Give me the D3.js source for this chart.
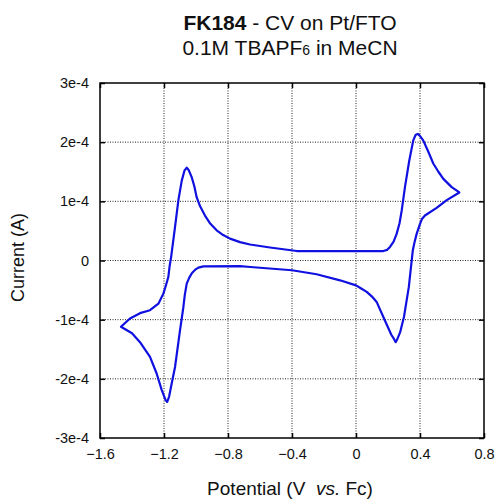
<!DOCTYPE html>
<html>
<head>
<meta charset="utf-8">
<script src="https://cdn.jsdelivr.net/npm/d3@7"></script>
<style>
  body { margin: 0; background: #fff; }
  text { font-family: "Liberation Sans", Arial, sans-serif; fill: #111; }
</style>
</head>
<body>
<div id="chart"></div>
<script>
// scan data, in order along the sweep (V vs Fc, current in units of 1e-4 A)
const potential = [0.0, 0.171, 0.195, 0.2125, 0.235, 0.254, 0.272, 0.286, 0.306, 0.333, 0.358, 0.372, 0.386, 0.398, 0.42, 0.45, 0.483, 0.515, 0.546, 0.598, 0.646,
  0.567, 0.504, 0.431, 0.412, 0.40, 0.379, 0.365, 0.355, 0.33, 0.30, 0.275, 0.258, 0.248, 0.238, 0.22, 0.18, 0.129, 0.10, 0.067, 0.03, 0.0, -0.1, -0.246, -0.40, -0.66, -0.725, -0.954, -0.985, -1.005, -1.025, -1.042, -1.058, -1.07, -1.079, -1.1, -1.131, -1.152, -1.168, -1.18, -1.19, -1.214, -1.246, -1.2875, -1.35, -1.40, -1.469,
  -1.4125, -1.35, -1.2875, -1.235, -1.204, -1.19, -1.173, -1.165, -1.156, -1.131, -1.11, -1.089, -1.072, -1.058, -1.046, -1.027, -1.01, -0.996, -0.975, -0.944, -0.91, -0.871, -0.83, -0.7875, -0.725, -0.6625, -0.5375, -0.37, 0.0]
const current = [0.16, 0.16, 0.18, 0.23, 0.32, 0.45, 0.63, 0.85, 1.24, 1.69, 2.03, 2.12, 2.14, 2.11, 2.03, 1.85, 1.64, 1.50, 1.38, 1.24, 1.15,
  1.02, 0.89, 0.76, 0.70, 0.62, 0.45, 0.30, 0.17, -0.45, -0.95, -1.22, -1.33, -1.38, -1.33, -1.25, -1.01, -0.70, -0.61, -0.53, -0.47, -0.42, -0.335, -0.233, -0.165, -0.11, -0.095, -0.10, -0.12, -0.155, -0.21, -0.29, -0.39, -0.58, -0.79, -1.18, -1.80, -2.08, -2.30, -2.39, -2.36, -2.19, -1.91, -1.63, -1.38, -1.23, -1.12,
  -0.98, -0.89, -0.84, -0.73, -0.56, -0.44, -0.28, -0.1, 0.05, 0.57, 1.02, 1.35, 1.52, 1.57, 1.53, 1.41, 1.25, 1.07, 0.92, 0.76, 0.62, 0.51, 0.43, 0.37, 0.31, 0.27, 0.22, 0.16, 0.16]

const xTicks = [-1.6, -1.2, -0.8, -0.4, 0, 0.4, 0.8]
const yTicks = [-3, -2, -1, 0, 1, 2, 3]
const yLabels = ["-3e-4", "-2e-4", "-1e-4", "0", "1e-4", "2e-4", "3e-4"]

const data = potential.map((v, i) => ({v: v, i: current[i]}))

const margin = ({top: 83, right: 11, bottom: 61, left: 100})
const width = 495 - margin.left - margin.right,
  height = 499 - margin.top - margin.bottom;

const svg = d3.select("#chart").append("svg")
    .attr("width", 495)
    .attr("height", 499)

const g = svg.append("g")
    .attr("transform", "translate(" + margin.left + "," + margin.top + ")");

const x = d3.scaleLinear().domain([-1.6, 0.8]).range([0, width])
const y = d3.scaleLinear().domain([-3, 3]).range([height, 0])

// dotted grid
g.append("g").selectAll("line.gx")
  .data(xTicks.slice(1, -1))
  .join("line")
    .attr("x1", d => x(d)).attr("x2", d => x(d))
    .attr("y1", 0).attr("y2", height)
    .attr("stroke", "#222").attr("stroke-width", 1)
    .attr("stroke-dasharray", "1,1.5")
g.append("g").selectAll("line.gy")
  .data(yTicks.slice(1, -1))
  .join("line")
    .attr("y1", d => y(d)).attr("y2", d => y(d))
    .attr("x1", 0).attr("x2", width)
    .attr("stroke", "#222").attr("stroke-width", 1)
    .attr("stroke-dasharray", "1,1.5")

// axes, ticks pointing inwards
const xAxis = d3.axisBottom(x).tickValues(xTicks).tickSize(-5).tickPadding(11).tickFormat(d => d === 0 ? "0" : d3.format(".1f")(d))
const yAxis = d3.axisLeft(y).tickValues(yTicks).tickSize(-5).tickPadding(11).tickFormat((d, k) => yLabels[k])

g.append("g").attr("class", "axis")
  .attr("transform", `translate(0, ${height})`)
  .call(xAxis)
g.append("g").attr("class", "axis").call(yAxis)
g.append("g").attr("class", "axis")
  .call(d3.axisTop(x).tickValues(xTicks).tickSize(-5).tickFormat(""))
g.append("g").attr("class", "axis")
  .attr("transform", `translate(${width}, 0)`)
  .call(d3.axisRight(y).tickValues(yTicks).tickSize(-5).tickFormat(""))

g.selectAll(".axis .domain").remove()
g.selectAll(".axis line").attr("stroke", "#000").attr("stroke-width", 1.5)
g.selectAll(".axis text").attr("font-size", 14.5).attr("fill", "#111")
  .style("font-family", "'Liberation Sans', Arial, sans-serif")

g.append("rect")
  .attr("width", width).attr("height", height)
  .attr("fill", "none").attr("stroke", "#000").attr("stroke-width", 1.5)

// the CV trace
const line = d3.line()
  .x(d => x(d.v))
  .y(d => y(d.i))

g.append("path")
  .datum(data)
  .attr("fill", "none")
  .attr("stroke", "#1010e0")
  .attr("stroke-width", 2.2)
  .attr("stroke-linejoin", "round")
  .attr("d", line)

// titles
const cx = margin.left + width / 2 - 2
const t1 = svg.append("text").attr("x", cx).attr("y", 30).attr("text-anchor", "middle").attr("font-size", 21)
t1.append("tspan").attr("font-weight", "bold").text("FK184")
t1.append("tspan").text(" - CV on Pt/FTO")

const t2 = svg.append("text").attr("x", cx).attr("y", 55).attr("text-anchor", "middle").attr("font-size", 21)
t2.append("tspan").text("0.1M TBAPF")
t2.append("tspan").attr("font-size", 14).text("6")
t2.append("tspan").text(" in MeCN")

const xl = svg.append("text").attr("x", cx).attr("y", 495).attr("text-anchor", "middle").attr("font-size", 19)
xl.append("tspan").text("Potential (V\u00a0\u00a0")
xl.append("tspan").attr("font-style", "italic").text("vs.")
xl.append("tspan").text(" Fc)")

svg.append("text")
  .attr("transform", `translate(24, ${margin.top + height / 2 - 3}) rotate(-90)`)
  .attr("text-anchor", "middle").attr("font-size", 18)
  .text("Current (A)")
</script>
</body>
</html>
